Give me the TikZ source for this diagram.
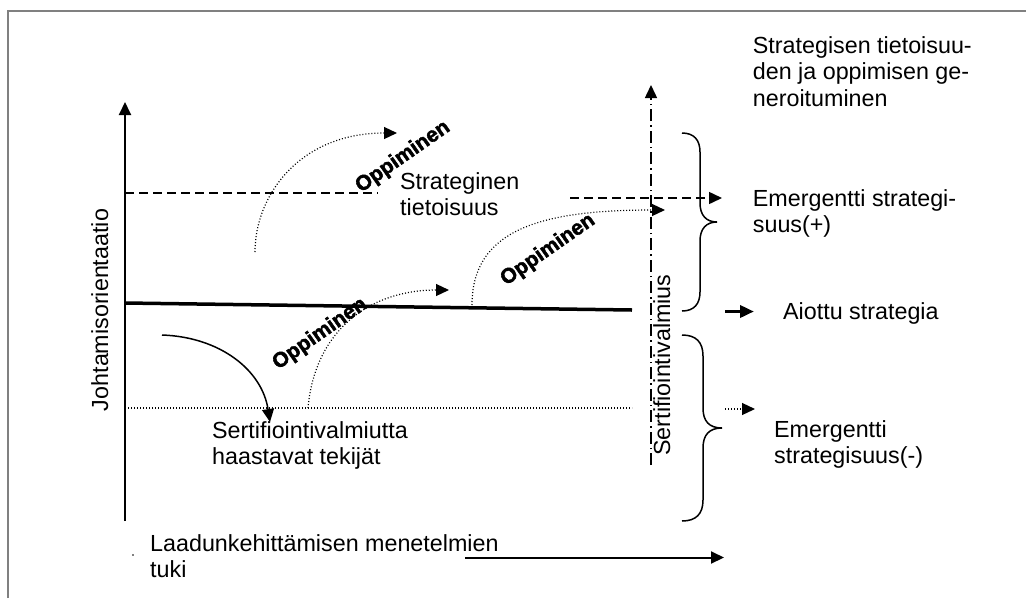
\documentclass[tikz,border=0pt]{standalone}
\usepackage{fontspec}
\setmainfont{Liberation Sans}
\newfontfamily\learnfont[FakeBold=2]{Liberation Sans Bold}
\usetikzlibrary{arrows.meta}
\begin{document}
\begin{tikzpicture}[x=1pt,y=-1pt,
  % multi-line labels are placed by the baseline of their last line
  lbl/.style={font=\fontsize{23.3}{26.5}\selectfont, inner sep=0pt, align=left, anchor=base west},
  vlbl/.style={font=\fontsize{23.3}{26.5}\selectfont, inner sep=0pt, rotate=90, anchor=base},
  learn/.style={font=\fontsize{21}{22}\learnfont, inner sep=0pt, rotate=35},
  tip/.style={-{Triangle[length=13pt,width=12pt]}},
  axisline/.style={line width=2pt},
  dotline/.style={line width=1.2pt, dash pattern=on 1pt off 2pt},
  dashline/.style={line width=1.5pt, dash pattern=on 9pt off 5pt},
  dashdotline/.style={line width=1.5pt, dash pattern=on 12pt off 4pt on 1.5pt off 4pt},
  brace/.style={line width=1.5pt},
  level/.style={line width=3.5pt},
]
\useasboundingbox (0,0) rectangle (1026,598);

% outer frame
\draw[gray, line width=1.5pt] (8,598) -- (8,11) -- (1026,11);

% axes
\coordinate (yb) at (125,521);
\coordinate (yt) at (125,102);
\draw[axisline, tip] (yb) -- (yt);
\node[vlbl] (ylab) at (108,310) {Johtamisorientaatio};

\coordinate (xb) at (465,557.5);
\coordinate (xt) at (724,557.5);
\draw[axisline, tip] (xb) -- (xt);
\node[lbl] (xlab) at (150,577.5) {Laadunkehittämisen menetelmien\\tuki};
\fill (133,555) circle (0.9);

% certification readiness axis
\coordinate (cb) at (651,465);
\coordinate (ct) at (651,85);
\draw[dashdotline, tip] (cb) -- (ct);
\node[vlbl] (clab) at (670,365) {Sertifiointivalmius};

% strategic awareness level
\coordinate (s1) at (125,193);
\coordinate (s2) at (378,193);
\draw[dashline] (s1) -- (s2);
\node[lbl] (saw) at (400,215.5) {Strateginen\\tietoisuus};

\coordinate (e1) at (570,198);
\coordinate (e2) at (722,198);
\draw[dashline, tip] (e1) -- (e2);

% intended strategy level
\coordinate (i1) at (125,303);
\coordinate (i2) at (632,310);
\draw[level] (i1) -- (i2);
\coordinate (ia1) at (725,311.5);
\coordinate (ia2) at (754,311.5);
\draw[level, -{Triangle[length=14pt,width=12pt]}] (ia1) -- (ia2);

% challenging factors level
\coordinate (f1) at (125,408);
\coordinate (f2) at (632,408);
\draw[dotline] (f1) -- (f2);
\coordinate (fa1) at (725,409);
\coordinate (fa2) at (755,409);
\draw[dotline, tip] (fa1) -- (fa2);
\node[lbl] (fac) at (212,464.5) {Sertifiointivalmiutta\\haastavat tekijät};

\coordinate (c1) at (162,335);
\coordinate (c2) at (270,422);
\draw[line width=1.5pt, tip] (c1) .. controls (220,337) and (262,370) .. (c2);

% learning arcs
\coordinate (l1a) at (255,252);
\coordinate (l1b) at (397,133);
\draw[dotline, tip] (l1a) .. controls (255,195) and (300,133) .. (l1b);
\coordinate (l2a) at (308,408);
\coordinate (l2b) at (449,290);
\draw[dotline, tip] (l2a) .. controls (315,330) and (370,290) .. (l2b);
\coordinate (l3a) at (472,305);
\coordinate (l3b) at (665,210);
\draw[dotline, tip] (l3a) .. controls (472,230) and (540,210) .. (l3b);

\node[learn] (o1) at (403,157) {Oppiminen};
\node[learn] (o2) at (320,334) {Oppiminen};
\node[learn] (o3) at (548,250) {Oppiminen};

% braces
\draw[brace] (682,133) .. controls (694,133) and (700,140) .. (700,152)
  -- (700,203) .. controls (700,215) and (706,222) .. (717,222)
  .. controls (706,222) and (700,229) .. (700,241)
  -- (700,292) .. controls (700,304) and (694,311) .. (682,311);
\draw[brace] (682,335) .. controls (696,335) and (703,342) .. (703,356)
  -- (703,408) .. controls (703,421) and (709,428) .. (722,428)
  .. controls (709,428) and (703,435) .. (703,448)
  -- (703,500) .. controls (703,514) and (696,521) .. (682,521);

% right-hand labels
\node[lbl] (gen) at (752.7,106) {Strategisen tietoisuu-\\den ja oppimisen ge-\\neroituminen};
\node[lbl] (emp) at (752.7,232.5) {Emergentti strategi-\\suus(+)};
\node[lbl] (int) at (783,319) {Aiottu strategia};
\node[lbl] (emn) at (774,463.5) {Emergentti\\strategisuus(-)};
\end{tikzpicture}
\end{document}
